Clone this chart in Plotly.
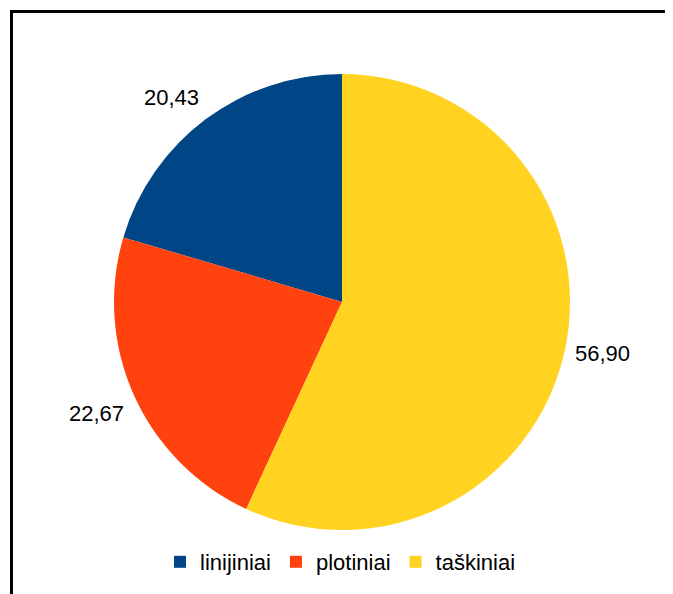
import math
import plotly.graph_objects as go

labels = ["linijiniai", "plotiniai", "taškiniai"]
values = [20.43, 22.67, 56.90]
colors = ["#004586", "#ff420e", "#ffd320"]
value_texts = [f"{v:.2f}".replace(".", ",") for v in values]

W, H = 665, 586  # page adds an 8px body margin
FONT = "Liberation Sans"

# pie domain in pixels (left, right, top, bottom)
px_l, px_r, px_t, px_b = 105, 563, 66, 522
cx, cy = (px_l + px_r) / 2, (px_t + px_b) / 2
radius = min(px_r - px_l, px_b - px_t) / 2
label_gap = 10

total = sum(values)
# first slice starts at 12 o'clock going counterclockwise
rotation = -360 * values[0] / total

fig = go.Figure(go.Pie(
    labels=labels,
    values=values,
    marker=dict(colors=colors, line=dict(width=0)),
    sort=False,
    direction="counterclockwise",
    rotation=rotation,
    textposition="none",
    domain=dict(x=[px_l / W, px_r / W], y=[1 - px_b / H, 1 - px_t / H]),
    hoverinfo="label+value",
))

# value labels placed outside each slice, at its mid angle
annotations = []
acc = 0.0
for v, txt in zip(values, value_texts):
    mid_ccw = (acc + v / 2) / total * 2 * math.pi
    acc += v
    theta = -mid_ccw  # clockwise from 12 o'clock
    ux, uy = math.sin(theta), math.cos(theta)  # uy points up
    rr = radius + label_gap
    ax_px = cx + rr * ux
    ay_px = cy - rr * uy
    lim = math.sin(math.radians(22.5))
    xanchor = "center" if abs(ux) < lim else ("left" if ux > 0 else "right")
    yanchor = "middle" if abs(uy) < lim else ("bottom" if uy > 0 else "top")
    annotations.append(dict(
        x=ax_px / W, y=1 - ay_px / H, xref="paper", yref="paper",
        text=txt, showarrow=False, xanchor=xanchor, yanchor=yanchor,
        borderpad=0, font=dict(family=FONT, size=22, color="black"),
    ))

fig.update_layout(
    width=W, height=H,
    margin=dict(l=0, r=0, t=0, b=0),
    paper_bgcolor="white",
    font=dict(family=FONT, size=22, color="black"),
    showlegend=True,
    legend=dict(orientation="h", x=0.5, xanchor="center", y=1 - 554 / H, yanchor="middle",
                font=dict(size=22), itemwidth=30, traceorder="normal"),
    annotations=annotations,
    shapes=[
        dict(type="line", xref="paper", yref="paper", x0=3.5 / W, x1=3.5 / W, y0=0, y1=1 - 3.5 / H,
             line=dict(color="black", width=3)),
        dict(type="line", xref="paper", yref="paper", x0=2 / W, x1=1, y0=1 - 3.5 / H, y1=1 - 3.5 / H,
             line=dict(color="black", width=3)),
    ],
)

fig.write_html("out.html")
